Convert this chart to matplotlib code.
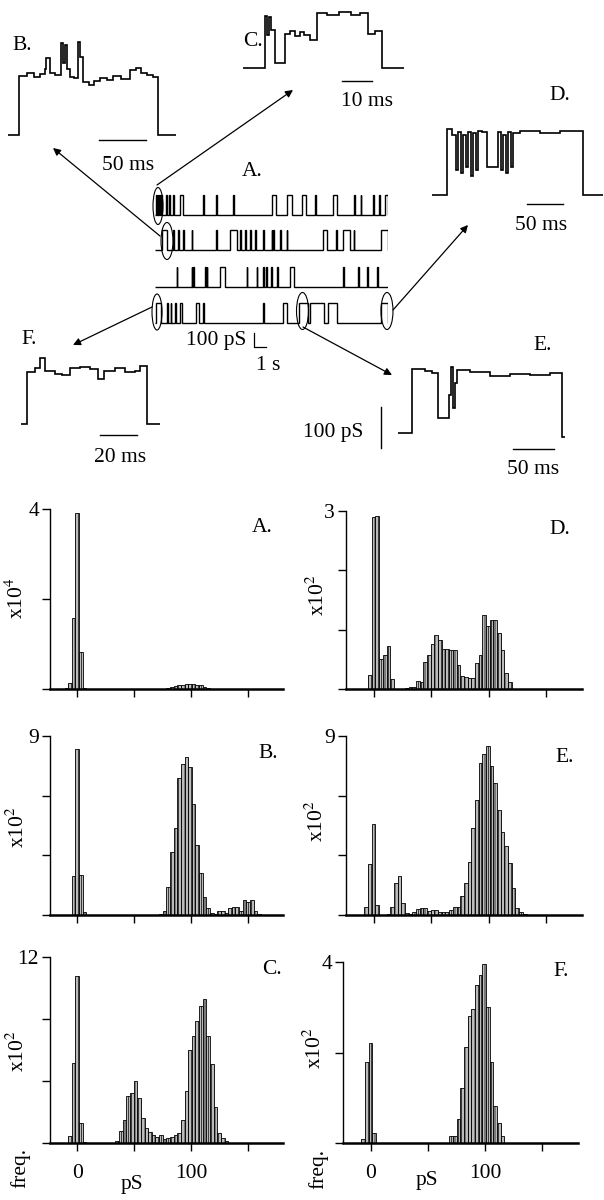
import numpy as np
import matplotlib
matplotlib.use('Agg')
import matplotlib.pyplot as plt
from matplotlib.patches import Ellipse

plt.rcParams['font.family'] = ['Liberation Serif', 'DejaVu Serif']
plt.rcParams['mathtext.fontset'] = 'stix'
plt.rcParams['hatch.linewidth'] = 0.5

# ---------------- histogram data (pS bins of 3.2, counts) ----------------
BIN_W = 3.2
# first bin index (bin centre = index * BIN_W) and counts
hist_A_start = -3   # x10^4
hist_A = [0.02, 0.13, 1.57, 3.91, 0.83, 0.02,
          0, 0, 0, 0, 0, 0, 0, 0, 0, 0, 0, 0, 0, 0, 0, 0, 0, 0, 0, 0, 0, 0,
          0.02, 0.04, 0.06, 0.08, 0.10, 0.11, 0.12, 0.11, 0.10, 0.08, 0.05, 0.03, 0.01]
hist_D_start = -1   # x10^2
hist_D = [0.23, 2.90, 2.91, 0.51, 0.58, 0.72, 0.17, 0, 0, 0, 0.02, 0.03, 0.03,
          0.13, 0.11, 0.45, 0.58, 0.76, 0.91, 0.83, 0.68, 0.67, 0.66, 0.66, 0.40,
          0.22, 0.20, 0.19, 0.18, 0.43, 0.58, 1.24, 1.06, 1.16, 1.16, 0.95, 0.65,
          0.27, 0.11]
hist_B_start = -1   # x10^2
hist_B = [1.96, 8.33, 2.02, 0.13,
          0, 0, 0, 0, 0, 0, 0, 0, 0, 0, 0, 0, 0, 0, 0, 0, 0, 0, 0, 0,
          0.05, 0.22, 1.42, 3.18, 4.35, 6.90, 7.60, 7.93, 7.44, 5.60, 3.50, 2.10,
          0.90, 0.33, 0.12, 0.05, 0.20, 0.18, 0.10, 0.35, 0.38, 0.38, 0.20, 0.75,
          0.65, 0.75, 0.22, 0.06]
hist_E_start = -2   # x10^2
hist_E = [0.38, 2.55, 4.60, 0.50, 0, 0, 0.05, 0.40, 1.62, 1.96, 0.62, 0.12,
          0.05, 0.17, 0.30, 0.33, 0.33, 0.20, 0.25, 0.25, 0.15, 0.15, 0.15, 0.25,
          0.42, 0.42, 0.95, 1.62, 2.68, 4.35, 5.78, 7.62, 8.12, 8.50, 7.50, 6.65,
          5.28, 4.19, 3.47, 2.60, 1.34, 0.34, 0.13, 0.04]
hist_C_start = -2   # x10^2
hist_C = [0.43, 5.16, 10.77, 1.28, 0.05, 0, 0, 0, 0, 0, 0, 0, 0,
          0.10, 0.75, 1.49, 3.03, 3.24, 3.99, 2.88, 1.60, 0.96, 0.68, 0.53, 0.38,
          0.53, 0.26, 0.30, 0.40, 0.50, 0.64, 1.49, 3.37, 5.97, 6.93, 7.85, 8.81,
          9.28, 6.93, 5.12, 2.35, 0.64, 0.32, 0.10]
hist_F_start = -2   # x10^2
hist_F = [0.09, 1.80, 2.20, 0.22,
          0, 0, 0, 0, 0, 0, 0, 0, 0, 0, 0, 0, 0, 0, 0, 0, 0, 0, 0, 0,
          0.15, 0.15, 0.53, 1.21, 2.13, 2.80, 2.97, 3.49, 3.71, 3.96, 3.00, 1.80,
          0.81, 0.44, 0.15]

# ---------------- single channel records ----------------
# continuous record A: opening start times (s) and durations (s), 4 rows
row1_start = [0.08, 0.22, 0.36, 0.5, 0.92, 1.19, 1.53, 2.08, 4.03, 5.08, 6.53, 9.72,
              10.97, 12.22, 13.33, 14.86, 16.58, 17.14, 18.19, 18.69, 19.19]
row1_dur = [0.06, 0.06, 0.06, 0.06, 0.06, 0.06, 0.06, 0.28, 0.05, 0.05, 0.05, 0.36,
            0.42, 0.36, 0.06, 0.33, 0.06, 0.05, 0.06, 0.06, 0.17]
row2_start = [0.56, 1.53, 1.94, 2.36, 3.06, 5.08, 6.25, 7.08, 7.5, 7.92, 8.33, 9.03,
              9.72, 9.86, 10.42, 10.97, 13.97, 15.08, 15.69, 16.53, 18.83]
row2_dur = [0.42, 0.06, 0.06, 0.06, 0.06, 0.06, 0.56, 0.06, 0.06, 0.06, 0.06, 0.06,
            0.06, 0.06, 0.06, 0.06, 0.39, 0.06, 0.56, 0.06, 0.53]
row3_start = [1.81, 3.06, 3.19, 4.17, 4.31, 5.42, 7.64, 8.47, 9.03, 9.25, 9.64, 10.14,
              11.25, 15.69, 16.94, 17.64, 18.47]
row3_dur = [0.05, 0.06, 0.05, 0.05, 0.05, 0.44, 0.05, 0.06, 0.06, 0.05, 0.06, 0.06,
            0.33, 0.05, 0.05, 0.10, 0.06]
row4_start = [0.08, 1.03, 1.31, 1.67, 2.08, 3.42, 4.03, 9.03, 10.69, 12.03, 12.92,
              14.44, 18.81]
row4_dur = [0.39, 0.06, 0.06, 0.06, 0.14, 0.28, 0.05, 0.05, 0.33, 0.75, 1.11, 0.69, 0.56]
ROW_LEN = 19.4

# expanded records: breakpoints (ms) and conductance level (pS) between them
B_t = [0, 11.7, 20, 28, 34, 39, 41, 45, 50, 57, 59, 61, 63, 66, 70, 75, 77, 80, 86,
       92, 98, 105, 112, 120, 130, 136, 142, 148, 154, 160, 179]
B_lv = [0, 98, 104, 96, 102, 110, 128, 104, 100, 153, 120, 150, 110, 97, 95, 155,
        130, 88, 84, 90, 95, 92, 98, 94, 108, 112, 104, 100, 96, 0]
C_t = [0, 7.3, 8.0, 8.7, 9.3, 10.7, 14.0, 15.7, 17.5, 19.0, 20.5, 22.3, 24.7, 28,
       32, 36, 39, 41.7, 44, 46.3, 53.7]
C_lv = [0, 95, 60, 93, 70, 10, 62, 68, 58, 66, 60, 52, 100, 96, 102, 97, 101, 62, 68, 0]
D_t = [0, 20.8, 27.8, 33.3, 36.1, 40.3, 43.1, 47.2, 50, 54.2, 56.9, 61.1, 63.9,
       69.4, 76.4, 91.7, 95.8, 98.6, 102.8, 105.6, 109.7, 112.5, 122.2, 150, 177.8,
       209.7, 237.5]
D_lv = [0, 105, 95, 40, 100, 35, 95, 45, 100, 30, 98, 40, 102, 100, 44, 100, 40, 95,
        35, 100, 45, 98, 102, 98, 101, 0]
E_t = [0, 17.1, 32.9, 41.5, 48.8, 62.2, 64.6, 67.1, 69.5, 72, 87.8, 112.2, 136.6,
       161, 185.4, 200, 203.7]
E_lv = [0, 102, 98, 95, 24, 60, 105, 40, 80, 100, 97, 90, 94, 92, 95, -6]
F_t = [0, 3.2, 7.6, 10.3, 13, 18.4, 22.2, 26.5, 31.9, 37.3, 41.6, 44.9, 50.8, 56.2,
       61.6, 64.3, 68.1, 75.1]
F_lv = [0, 92, 100, 118, 95, 90, 88, 100, 102, 98, 80, 95, 100, 93, 95, 103, 0]

W, H = 604, 1200
fig = plt.figure(figsize=(W / 100, H / 100), dpi=100)

# overlay in pixel units for arrows, circles, scale bars and labels
ov = fig.add_axes([0, 0, 1, 1])
ov.set_xlim(0, W)
ov.set_ylim(H, 0)
ov.axis('off')


def px_axes(x0, x1, y_top, y_bot):
    return fig.add_axes([x0 / W, 1 - y_bot / H, (x1 - x0) / W, (y_bot - y_top) / H])


def trace_axes(x0, x1, t_end, y0, y100):
    s = (y0 - y100) / 100.0
    ax = px_axes(x0, x1, y100 - 45, y0 + 12)
    ax.set_xlim(0, t_end)
    ax.set_ylim(-12 / s, 100 + 45 / s)
    ax.axis('off')
    ax.patch.set_alpha(0)
    return ax


# continuous record rows
rows = [(row1_start, row1_dur, 215), (row2_start, row2_dur, 250),
        (row3_start, row3_dur, 287), (row4_start, row4_dur, 323)]
for starts, durs, base in rows:
    ax = trace_axes(155, 388, ROW_LEN, base, base - 20)
    edges = [0.0]
    lv = []
    for s, d in zip(starts, durs):
        edges += [s, s + d]
        lv += [0, 100]
    edges.append(ROW_LEN)
    lv.append(0)
    ax.stairs(lv, edges, baseline=None, color='k', lw=1.0)

# expanded insets
insets = [(B_t, B_lv, 8, 176, 135, 75), (C_t, C_lv, 243, 404, 68.3, 13.3),
          (D_t, D_lv, 432, 603, 195, 132), (E_t, E_lv, 398, 565, 433, 370),
          (F_t, F_lv, 21, 160, 424, 368)]
for t, lv, x0, x1, y0, y100 in insets:
    ax = trace_axes(x0, x1, t[-1], y0, y100)
    ax.stairs(lv, t, baseline=None, color='k', lw=1.2)

# circles and arrows
for cx, cy, w, h in [(158, 206, 10, 37), (167, 241, 12, 37), (157, 312, 10, 36),
                     (302.5, 311, 12, 37), (387, 311, 12, 37)]:
    ov.add_patch(Ellipse((cx, cy), w, h, fill=False, lw=0.8, color='k'))
for (xs, ys), (xt, yt) in [((157, 185), (293, 90)), ((160, 236), (53, 148)),
                           ((393, 310), (468, 225)), ((152, 307), (73, 345)),
                           ((303, 327), (392, 375))]:
    ov.annotate('', xy=(xt, yt), xytext=(xs, ys),
                arrowprops=dict(arrowstyle='-|>', lw=0.9, color='k',
                                mutation_scale=11, shrinkA=0, shrinkB=0))

# scale bars
for x0, x1, y in [(99, 146, 140), (342, 372, 81), (527, 563, 204),
                  (513, 554, 449), (100, 137, 435)]:
    ov.plot([x0, x1], [y, y], color='k', lw=1.0)
ov.plot([381, 381], [407, 448], color='k', lw=1.0)
ov.plot([254, 254, 266], [333, 347, 347], color='k', lw=0.9)

fs = 15.5
for txt, x, y in [('B.', 22, 46), ('C.', 253, 42), ('D.', 560, 95), ('E.', 543, 346),
                  ('F.', 29, 340), ('A.', 252, 171), ('50 ms', 128, 166),
                  ('10 ms', 367, 102), ('50 ms', 541, 226), ('50 ms', 533, 469),
                  ('20 ms', 120, 458), ('100 pS', 333, 433), ('100 pS', 216, 340),
                  ('1 s', 268, 366)]:
    ov.text(x, y, txt, ha='center', va='center', fontsize=fs)

# ---------------- histograms ----------------
panels = [
    ('A.', hist_A_start, hist_A, (50, 283, 509, 689), 4, [0, 2, 4], 4, False, (262, 528), (17, 598)),
    ('D.', hist_D_start, hist_D, (346, 582, 511, 689), 3, [0, 1, 2, 3], 2, False, (560, 530), (318, 595)),
    ('B.', hist_B_start, hist_B, (50, 283, 736, 915), 9, [0, 3, 6, 9], 2, False, (268, 753), (18, 827)),
    ('E.', hist_E_start, hist_E, (346, 582, 736, 915), 9, [0, 3, 6, 9], 2, False, (565, 757), (317, 821)),
    ('C.', hist_C_start, hist_C, (50, 283, 957, 1143), 12, [0, 4, 8, 12], 2, True, (272, 970), (18, 1051)),
    ('F.', hist_F_start, hist_F, (343, 578, 962, 1143), 4, [0, 2, 4], 2, True, (561, 972), (315, 1048)),
]
for name, start, counts, box, ytop, yt, expo, bottom, lab_xy, yl_xy in panels:
    ax = px_axes(*box)
    centers = (start + np.arange(len(counts))) * BIN_W
    ax.bar(centers, counts, width=BIN_W, color='#bcbcbc', edgecolor='k',
           lw=0.6, hatch='|||||', zorder=2)
    ax.set_xlim(-24, 181)
    ax.set_ylim(0, ytop)
    ax.patch.set_alpha(0)
    for sp in ('top', 'right'):
        ax.spines[sp].set_visible(False)
    ax.spines['bottom'].set_linewidth(1.8)
    ax.spines['left'].set_linewidth(1.0)
    ax.spines['bottom'].set_zorder(3)
    ax.set_xticks([0, 50, 100, 150])
    ax.set_xticklabels(['0', '', '100', ''] if bottom else ['', '', '', ''])
    ax.set_yticks(yt)
    ax.set_yticklabels([''] * (len(yt) - 1) + [str(ytop)])
    ax.tick_params(direction='out', length=6, width=1, labelsize=fs, pad=2)
    ax.tick_params(axis='x', pad=9)
    ov.text(lab_xy[0], lab_xy[1], name, ha='center', va='center', fontsize=fs)
    ov.text(yl_xy[0], yl_xy[1], 'x10$^{%d}$' % expo, ha='center', va='center',
            rotation=90, fontsize=fs)

ov.text(132, 1184, 'pS', ha='center', va='center', fontsize=fs)
ov.text(427, 1180, 'pS', ha='center', va='center', fontsize=fs)
ov.text(20, 1168, 'freq.', ha='center', va='center', rotation=90, fontsize=fs)
ov.text(318, 1169, 'freq.', ha='center', va='center', rotation=90, fontsize=fs)

fig.savefig('out.png', dpi=100)
